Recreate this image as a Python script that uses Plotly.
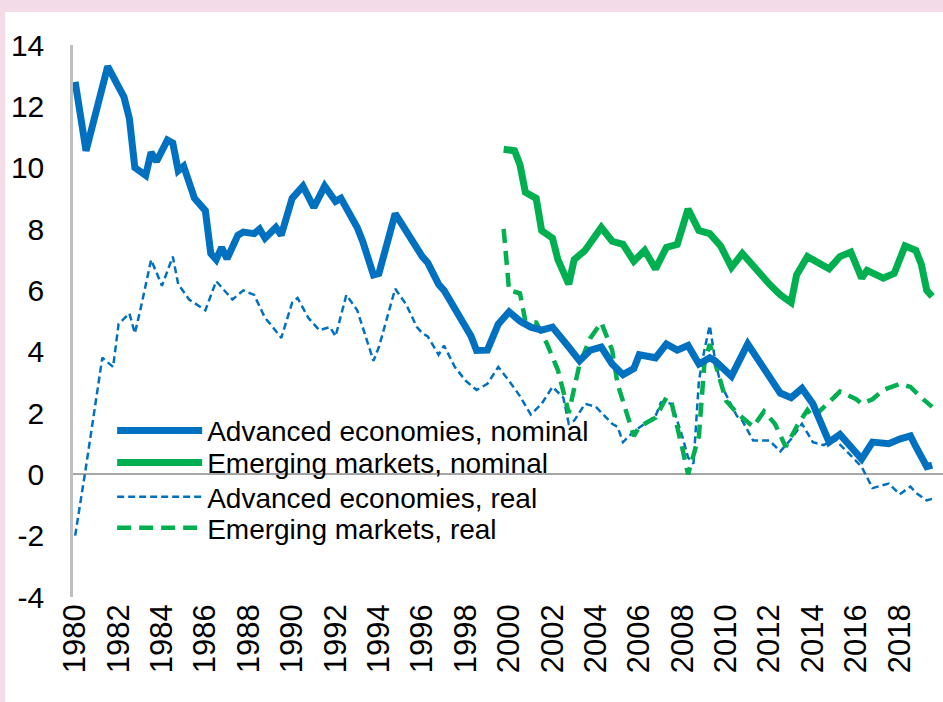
import plotly.graph_objects as go

ae_nom_x = [1980.0, 1980.5, 1981.5, 1982.25, 1982.5, 1982.75, 1983.25, 1983.5, 1983.75, 1984.25,
            1984.5, 1984.75, 1985.0, 1985.5, 1986.0, 1986.25, 1986.5, 1986.75, 1987.0, 1987.5,
            1987.75, 1988.25, 1988.5, 1988.75, 1989.25, 1989.5, 1990.0, 1990.5, 1991.0, 1991.5,
            1992.0, 1992.25, 1993.0, 1993.25, 1993.75, 1994.0, 1994.75, 1995.5, 1996.0, 1996.25,
            1996.75, 1997.0, 1997.75, 1998.25, 1998.5, 1999.0, 1999.5, 2000.0, 2000.5, 2001.0,
            2001.5, 2002.0, 2002.75, 2003.25, 2003.75, 2004.25, 2004.75, 2005.25, 2005.75, 2006.0,
            2006.75, 2007.25, 2007.75, 2008.25, 2008.75, 2009.25, 2009.5, 2010.25, 2011.0, 2011.75,
            2012.5, 2013.0, 2013.5, 2014.0, 2014.75, 2015.25, 2015.75, 2016.25, 2016.75, 2017.5,
            2018.0, 2018.5, 2018.75, 2019.25, 2019.5]
ae_nom_y = [12.8, 10.55, 13.3, 12.3, 11.6, 10.0, 9.75, 10.5, 10.2, 10.9,
            10.8, 9.9, 10.05, 9.0, 8.6, 7.2, 7.0, 7.4, 7.03, 7.8,
            7.9, 7.85, 8.0, 7.7, 8.05, 7.8, 9.0, 9.4, 8.7, 9.4,
            8.9, 9.0, 8.05, 7.6, 6.5, 6.55, 8.5, 7.6, 7.1, 6.9,
            6.2, 6.0, 5.1, 4.5, 4.04, 4.05, 4.9, 5.3, 5.0, 4.8,
            4.7, 4.8, 4.15, 3.7, 4.05, 4.15, 3.6, 3.25, 3.45, 3.9,
            3.8, 4.25, 4.05, 4.2, 3.6, 3.8, 3.7, 3.2, 4.25, 3.4,
            2.65, 2.5, 2.8, 2.3, 1.05, 1.3, 0.9, 0.5, 1.05, 1.0,
            1.15, 1.25, 0.9, 0.25, 0.3]

em_nom_x = [1999.75, 2000.25, 2000.5, 2000.75, 2001.25, 2001.5, 2002.0, 2002.25, 2002.75, 2003.0,
            2003.5, 2004.25, 2004.75, 2005.25, 2005.75, 2006.25, 2006.75, 2007.25, 2007.75, 2008.25,
            2008.75, 2009.25, 2009.75, 2010.25, 2010.75, 2011.5, 2012.0, 2012.5, 2013.0, 2013.25,
            2013.75, 2014.75, 2015.25, 2015.75, 2016.25, 2016.5, 2017.25, 2017.75, 2018.25, 2018.75,
            2019.0, 2019.25, 2019.5]
em_nom_y = [10.6, 10.55, 10.1, 9.2, 9.0, 7.95, 7.7, 7.0, 6.2, 7.0,
            7.3, 8.05, 7.6, 7.5, 6.95, 7.3, 6.7, 7.4, 7.5, 8.65,
            7.95, 7.85, 7.45, 6.75, 7.2, 6.55, 6.2, 5.85, 5.6, 6.5,
            7.1, 6.7, 7.1, 7.25, 6.4, 6.65, 6.4, 6.55, 7.45, 7.3,
            6.85, 6.0, 5.8]

ae_real_x = [1980.0, 1980.5, 1981.25, 1981.75, 1982.0, 1982.5, 1982.75, 1983.0, 1983.5, 1984.0,
             1984.5, 1984.75, 1985.25, 1986.0, 1986.5, 1987.25, 1987.75, 1988.25, 1988.75, 1989.0,
             1989.5, 1990.0, 1990.25, 1990.75, 1991.25, 1991.75, 1992.0, 1992.5, 1993.0, 1993.25,
             1993.75, 1994.0, 1994.75, 1995.25, 1995.75, 1996.0, 1996.25, 1996.75, 1997.0, 1997.5,
             1998.0, 1998.5, 1999.0, 1999.5, 2000.0, 2000.5, 2001.0, 2001.5, 2002.0, 2002.5,
             2002.75, 2003.0, 2003.5, 2004.0, 2004.75, 2005.0, 2005.25, 2005.75, 2006.25, 2006.75,
             2007.0, 2007.5, 2008.0, 2008.25, 2008.5, 2008.75, 2009.0, 2009.25, 2009.5, 2009.75,
             2010.0, 2010.5, 2010.75, 2011.25, 2012.0, 2012.5, 2013.0, 2013.5, 2014.0, 2014.5,
             2015.0, 2015.5, 2016.25, 2016.75, 2017.5, 2018.0, 2018.5, 2018.75, 2019.25, 2019.5]
ae_real_y = [-2.0, 0.25, 3.8, 3.5, 4.9, 5.25, 4.6, 5.35, 7.0, 6.15,
             7.1, 6.2, 5.7, 5.35, 6.3, 5.7, 6.0, 5.85, 5.1, 4.9,
             4.45, 5.6, 5.75, 5.1, 4.7, 4.8, 4.5, 5.85, 5.35, 4.8,
             3.7, 4.15, 6.05, 5.55, 4.8, 4.6, 4.5, 3.9, 4.2, 3.5,
             3.05, 2.75, 2.95, 3.5, 3.05, 2.55, 1.95, 2.3, 2.85, 2.5,
             1.65, 1.75, 2.3, 2.2, 1.65, 1.55, 1.05, 1.4, 1.65, 1.9,
             2.35, 2.3, 1.2, 0.55, 0.35, 3.05, 4.05, 4.85, 3.7, 2.95,
             2.6, 1.9, 1.75, 1.1, 1.1, 0.75, 1.15, 1.65, 1.05, 0.95,
             1.15, 0.8, 0.25, -0.45, -0.3, -0.65, -0.4, -0.6, -0.85, -0.8]

em_real_x = [1999.75, 2000.0, 2000.5, 2000.75, 2001.25, 2001.75, 2002.25, 2002.75, 2003.25, 2003.75,
             2004.25, 2004.75, 2005.0, 2005.75, 2006.0, 2006.75, 2007.25, 2007.5, 2008.0, 2008.25,
             2008.75, 2009.0, 2009.25, 2009.5, 2010.0, 2010.5, 2011.25, 2011.75, 2012.25, 2012.75,
             2013.25, 2013.75, 2014.0, 2014.75, 2015.25, 2016.0, 2016.25, 2016.75, 2017.25, 2018.0,
             2018.5, 2019.0, 2019.5]
em_real_y = [8.0, 6.0, 5.9, 5.0, 4.95, 4.25, 3.4, 2.0, 3.6, 4.45,
             4.95, 4.05, 2.95, 1.25, 1.55, 1.85, 2.5, 2.3, 0.8, 0.0,
             1.25, 3.6, 4.25, 3.6, 2.4, 2.0, 1.55, 2.05, 1.65, 0.9,
             1.55, 2.1, 1.85, 2.35, 2.7, 2.45, 2.3, 2.45, 2.75, 2.95,
             2.85, 2.5, 2.2]

year_ticks = list(range(1980, 2019, 2))
y_ticks = list(range(-4, 15, 2))

BLUE = "#0070C0"
GREEN = "#00B050"
PINK = "#F3DCE8"

fig = go.Figure()

# each series gets its own legend so the rows can sit where the original has them
fig.add_trace(go.Scatter(x=ae_real_x, y=ae_real_y, mode="lines", name="Advanced economies, real",
                         line=dict(color=BLUE, width=2.5, dash="7px,4px"), legend="legend3"))
fig.add_trace(go.Scatter(x=em_real_x, y=em_real_y, mode="lines", name="Emerging markets, real",
                         line=dict(color=GREEN, width=4.5, dash="14px,8px"), legend="legend4"))
fig.add_trace(go.Scatter(x=em_nom_x, y=em_nom_y, mode="lines", name="Emerging markets, nominal",
                         line=dict(color=GREEN, width=7), legend="legend2"))
fig.add_trace(go.Scatter(x=ae_nom_x, y=ae_nom_y, mode="lines", name="Advanced economies, nominal",
                         line=dict(color=BLUE, width=7), legend="legend"))

# white chart panel on the pink page
fig.add_shape(type="rect", xref="paper", yref="paper", layer="below",
              x0=-0.078, x1=1.01, y0=-0.3, y1=1.06,
              fillcolor="white", line=dict(width=0))

def legend_box(y):
    return dict(x=0.045, y=y, xanchor="left", yanchor="middle",
                bgcolor="rgba(0,0,0,0)", font=dict(size=28), itemwidth=85)

fig.update_layout(
    width=943,
    height=702,
    margin=dict(l=73, r=0, t=45, b=105),
    paper_bgcolor=PINK,
    plot_bgcolor="white",
    font=dict(family="Arial, Liberation Sans, sans-serif", color="black"),
    showlegend=True,
    legend=legend_box(0.301),
    legend2=legend_box(0.243),
    legend3=legend_box(0.181),
    legend4=legend_box(0.125),
    xaxis=dict(
        range=[1979.9, 2020.0],
        tickvals=year_ticks,
        ticktext=[str(y) for y in year_ticks],
        tickangle=-90,
        tickfont=dict(size=31),
        showgrid=False,
        zeroline=False,
        showline=False,
        ticks="",
    ),
    yaxis=dict(
        range=[-4, 14],
        tickvals=y_ticks,
        ticktext=[str(v) for v in y_ticks],
        tickfont=dict(size=30),
        showgrid=False,
        zeroline=True,
        zerolinecolor="#A6A6A6",
        zerolinewidth=1.5,
        showline=True,
        linecolor="#BFBFBF",
        linewidth=2.5,
        ticks="",
        ticklabelstandoff=20,
    ),
)

fig.write_html("out.html", config={"displayModeBar": False},
               post_script="document.body.style.margin='0';")
